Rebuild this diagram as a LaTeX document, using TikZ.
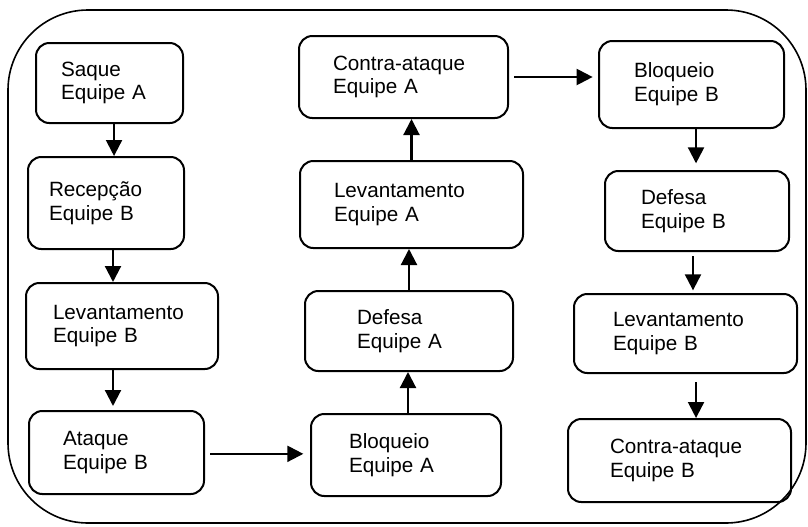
\documentclass[tikz,border=0pt]{standalone}
\usepackage{fontspec}
\setmainfont{Liberation Sans}
\usepackage{tikz}
\usetikzlibrary{arrows.meta}
\tikzset{
stepbox/.style = {rectangle, draw=black, line width=1.5pt, rounded corners=10pt,
                  anchor=north west, align=left, inner ysep=2pt,
                  font=\fontsize{15.5pt}{17.8pt}\selectfont},
flow/.style = {-{Triangle[length=12pt, width=12pt]}, line width=1.6pt},
frame/.style = {draw=black, line width=1.2pt, rounded corners=60pt}
}

\begin{document}
\begin{tikzpicture}[x=0.75pt, y=-0.75pt]
    \useasboundingbox (0,0) rectangle (808,526);
    \draw[frame] (8,10) rectangle (806,523);

    % coluna 1
    \node[stepbox, inner xsep=18.75pt, text width=72.75pt, minimum height=60pt] (saqueA) at (35,42) {Saque\\Equipe A};
    \node[stepbox, inner xsep=15.75pt, text width=85.5pt, minimum height=69pt] (recepB) at (27,156) {Recepção\\Equipe B};
    \node[stepbox, inner xsep=20.25pt, text width=103.5pt, minimum height=64.5pt] (levB) at (25,282) {Levantamento\\Equipe B};
    \node[stepbox, inner xsep=25.5pt, text width=80.25pt, minimum height=62.25pt] (ataqueB) at (28,410) {Ataque\\Equipe B};

    % coluna 2
    \node[stepbox, inner xsep=28.5pt, text width=85.5pt, minimum height=61.5pt] (bloqA) at (310,413) {Bloqueio\\Equipe A};
    \node[stepbox, inner xsep=39pt, text width=78pt, minimum height=60pt] (defA) at (304,290) {Defesa\\Equipe A};
    \node[stepbox, inner xsep=25.5pt, text width=116.25pt, minimum height=65.25pt] (levA) at (299,160) {Levantamento\\Equipe A};
    \node[stepbox, inner xsep=25.5pt, text width=105.75pt, minimum height=61.5pt] (contraA) at (298,35) {Contra-ataque\\Equipe A};

    % coluna 3
    \node[stepbox, inner xsep=26.25pt, text width=86.25pt, minimum height=65.25pt] (bloqB) at (598,40) {Bloqueio\\Equipe B};
    \node[stepbox, inner xsep=27pt, text width=84pt, minimum height=60pt] (defB) at (604,170) {Defesa\\Equipe B};
    \node[stepbox, inner xsep=29.25pt, text width=108.75pt, minimum height=59.25pt] (levB2) at (573,293) {Levantamento\\Equipe B};
    \node[stepbox, inner xsep=31.5pt, text width=104.25pt, minimum height=62.25pt] (contraB) at (567,418) {Contra-ataque\\Equipe B};

    \draw[flow] ([xshift=3.4pt]saqueA.south) -- ([xshift=3.4pt]saqueA.south |- recepB.north);
    \draw[flow] ([xshift=5.25pt]recepB.south) -- ([xshift=5.25pt]recepB.south |- levB.north);
    \draw[flow, shorten >=3pt] ([xshift=-6.75pt]levB.south) -- ([xshift=-6.75pt]levB.south |- ataqueB.north);
    \draw[flow, shorten <=4pt, shorten >=5pt] ([yshift=-1pt]ataqueB.east) -- ([yshift=-1pt]ataqueB.east -| bloqA.west);
    \draw[flow] ([xshift=1.5pt]bloqA.north) -- ([xshift=1.5pt]bloqA.north |- defA.south);
    \draw[flow] (defA.north) -- (defA.north |- levA.south);
    \draw[flow] (levA.north) -- (levA.north |- contraA.south);
    \draw[flow, shorten <=4pt, shorten >=4pt] (contraA.east) -- (contraA.east -| bloqB.west);
    \draw[flow, shorten >=5pt] ([xshift=3.4pt]bloqB.south) -- ([xshift=3.4pt]bloqB.south |- defB.north);
    \draw[flow, shorten <=3pt, shorten >=2pt] ([xshift=-3pt]defB.south) -- ([xshift=-3pt]defB.south |- levB2.north);
    \draw[flow, shorten <=6pt] ([xshift=7.9pt]levB2.south) -- ([xshift=7.9pt]levB2.south |- contraB.north);
\end{tikzpicture}
\end{document}
